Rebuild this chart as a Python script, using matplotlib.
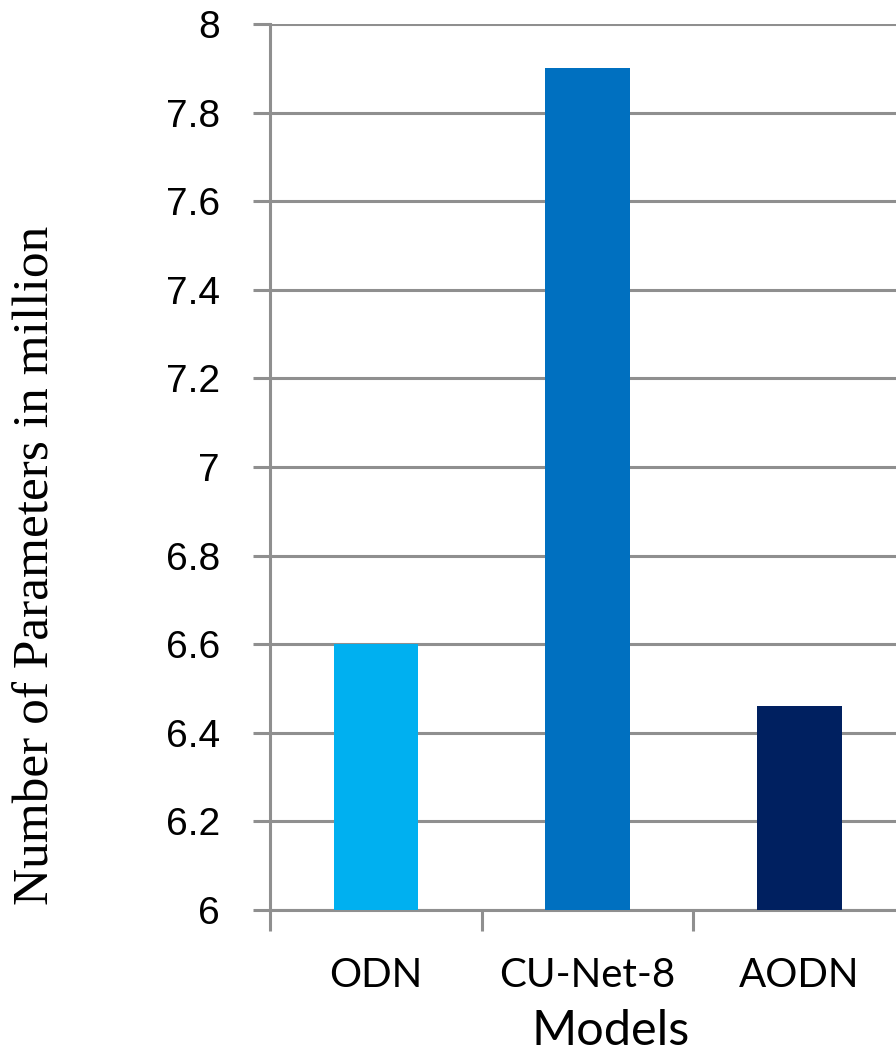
import matplotlib
matplotlib.use("Agg")
import matplotlib.pyplot as plt

# model parameter counts (millions)
models = ["ODN", "CU-Net-8", "AODN"]
params = [6.6, 7.9, 6.46]
bar_colors = ["#00B0F0", "#0070C0", "#002060"]
yticks = [6, 6.2, 6.4, 6.6, 6.8, 7, 7.2, 7.4, 7.6, 7.8, 8]
ytick_labels = ["6", "6.2", "6.4", "6.6", "6.8", "7", "7.2", "7.4", "7.6", "7.8", "8"]

grid_col = "#8f8f8f"

fig = plt.figure(figsize=(8.96, 10.58), dpi=100)
# plot area runs slightly past the right edge of the figure
ax = fig.add_axes([270 / 896, 148 / 1058, 635 / 896, 886 / 1058])

x = list(range(len(models)))
ax.bar(x, params, width=0.4, color=bar_colors, zorder=3)

ax.set_xlim(-0.5, 2.5)
ax.set_ylim(6, 8)
ax.set_yticks(yticks)
ax.set_yticklabels(ytick_labels, family="Liberation Sans", fontsize=28)

# category labels sit between the boundary ticks
ax.set_xticks([-0.5, 0.5, 1.5, 2.5])
ax.set_xticklabels([])
ax.set_xticks(x, minor=True)
ax.set_xticklabels(models, minor=True, family="Lato", fontsize=29)
ax.tick_params(axis="x", which="minor", length=0, pad=34)
ax.tick_params(axis="x", which="major", length=15, width=2.2, color=grid_col)
ax.tick_params(axis="y", length=12, width=2.2, color=grid_col, pad=24)

ax.grid(axis="y", color=grid_col, linewidth=2.2, zorder=0)
ax.set_axisbelow(True)
for side in ["top", "right"]:
    ax.spines[side].set_visible(False)
for side in ["left", "bottom"]:
    ax.spines[side].set_color(grid_col)
    ax.spines[side].set_linewidth(2.2)

ax.set_ylabel("Number of Parameters in million", family="Liberation Serif",
              fontsize=37, va="center")
ax.yaxis.set_label_coords(-0.368, 0.389)
ax.set_xlabel("Models", family="Lato", fontsize=35, va="baseline")
ax.xaxis.set_label_coords(0.537, -0.152)

fig.savefig("out.png", dpi=100)
